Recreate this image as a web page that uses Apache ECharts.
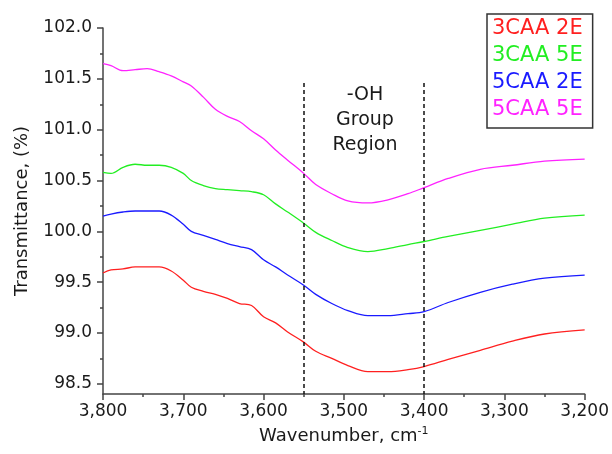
<!DOCTYPE html>
<html>
<head>
<meta charset="utf-8">
<script src="https://cdn.jsdelivr.net/npm/echarts@6/dist/echarts.min.js"></script>
<style>
    html, body { margin: 0; padding: 0; background: #fff; }
    #chart { width: 612px; height: 454px; }
</style>
</head>
<body>
<div id="chart"></div>
<script>
// Data ------------------------------------------------------------
const wavenumbers = [3800, 3790, 3775, 3760, 3745, 3730, 3715, 3700, 3690, 3675, 3660, 3645, 3630, 3615, 3600,
    3585, 3570, 3550, 3535, 3515, 3495, 3470, 3445, 3420, 3400, 3370, 3330, 3290, 3250, 3200];

const caa3_2e = [99.59, 99.62, 99.63, 99.65, 99.65, 99.65, 99.61, 99.52, 99.45, 99.41, 99.38, 99.34, 99.29, 99.27, 99.16,
    99.10, 99.01, 98.91, 98.82, 98.75, 98.68, 98.62, 98.62, 98.64, 98.67, 98.74, 98.83, 98.92, 98.99, 99.03];
const caa3_5e = [100.58, 100.57, 100.63, 100.66, 100.65, 100.65, 100.63, 100.57, 100.50, 100.45, 100.42, 100.41, 100.40, 100.39, 100.36,
    100.27, 100.19, 100.08, 99.99, 99.91, 99.84, 99.80, 99.83, 99.87, 99.90, 99.95, 100.01, 100.07, 100.13, 100.16];
const caa5_2e = [100.15, 100.17, 100.19, 100.20, 100.20, 100.20, 100.16, 100.07, 100.00, 99.96, 99.92, 99.88, 99.85, 99.82, 99.72,
    99.65, 99.57, 99.47, 99.38, 99.29, 99.22, 99.17, 99.17, 99.19, 99.21, 99.30, 99.40, 99.48, 99.54, 99.57];
const caa5_5e = [101.65, 101.63, 101.58, 101.59, 101.60, 101.57, 101.53, 101.47, 101.43, 101.32, 101.20, 101.13, 101.08, 100.99, 100.91,
    100.80, 100.70, 100.57, 100.46, 100.37, 100.30, 100.28, 100.31, 100.37, 100.43, 100.52, 100.61, 100.65, 100.69, 100.71];

const seriesNames = ['3CAA 2E', '3CAA 5E', '5CAA 2E', '5CAA 5E'];
const seriesColors = ['#ff2020', '#22ee22', '#1a1aff', '#ff22ff'];

const yMajorTicks = [98.5, 99.0, 99.5, 100.0, 100.5, 101.0, 101.5, 102.0];
const yMinorTicks = [98.75, 99.25, 99.75, 100.25, 100.75, 101.25, 101.75];
const regionBounds = [3550, 3400];
const regionTop = 101.46;

// Chart -----------------------------------------------------------
const font = 'DejaVu Sans';
const textColor = '#1a1a1a';
const axisColor = '#444';

const pair = (ys) => wavenumbers.map((w, i) => [w, ys[i]]);
const allValues = [caa3_2e, caa3_5e, caa5_2e, caa5_5e];

const chart = echarts.init(document.getElementById('chart'));

const series = allValues.map((ys, i) => ({
    name: seriesNames[i],
    type: 'line',
    data: pair(ys),
    showSymbol: false,
    smooth: 0.35,
    lineStyle: {color: seriesColors[i], width: 1.3},
    itemStyle: {color: seriesColors[i]},
    z: 3
}));

series[0].markLine = {
    silent: true,
    symbol: 'none',
    label: {show: false},
    lineStyle: {color: '#111', type: [4, 3], width: 1.5},
    data: regionBounds.map(w => [{coord: [w, regionTop]}, {coord: [w, 98.4]}])
};

chart.setOption({
    animation: false,
    textStyle: {fontFamily: font},
    grid: {left: 103, right: 25, top: 28, bottom: 60},
    legend: {
        orient: 'vertical',
        left: 487,
        top: 14,
        icon: 'rect',
        itemWidth: 0,
        itemHeight: 0,
        itemGap: 6,
        padding: [4, 10, 8, 0],
        borderColor: '#333',
        borderWidth: 1.5,
        textStyle: {fontFamily: font, fontSize: 21, lineHeight: 20},
        data: seriesNames.map((n, i) => ({name: n, textStyle: {color: seriesColors[i]}}))
    },
    xAxis: {
        type: 'value',
        inverse: true,
        min: 3200,
        max: 3800,
        interval: 100,
        name: 'Wavenumber, cm{sup|-1}',
        nameLocation: 'middle',
        nameGap: 32,
        nameTextStyle: {
            fontFamily: font, fontSize: 18, color: textColor,
            rich: {sup: {fontFamily: font, fontSize: 11, color: textColor, verticalAlign: 'top', padding: [0, 0, 10, 0]}}
        },
        axisLine: {lineStyle: {color: axisColor, width: 1.5}},
        axisTick: {inside: false, length: 6, lineStyle: {color: axisColor, width: 1.5}},
        minorTick: {show: true, splitNumber: 2, length: 3, lineStyle: {color: axisColor, width: 1.5}},
        axisLabel: {
            margin: 9, fontSize: 17, color: textColor,
            formatter: v => v.toLocaleString('en-US')
        },
        splitLine: {show: false}
    },
    yAxis: [
        {
            type: 'value',
            min: 98.4,
            max: 102,
            name: 'Transmittance, (%)',
            nameLocation: 'middle',
            nameGap: 72,
            nameTextStyle: {fontFamily: font, fontSize: 18, color: textColor},
            axisLine: {show: true, lineStyle: {color: axisColor, width: 1.5}},
            axisTick: {show: true, inside: false, length: 6, customValues: yMajorTicks, lineStyle: {color: axisColor, width: 1.5}},
            axisLabel: {
                margin: 11, fontSize: 17, color: textColor,
                customValues: yMajorTicks,
                formatter: v => v.toFixed(1)
            },
            splitLine: {show: false}
        },
        {
            type: 'value',
            position: 'left',
            min: 98.4,
            max: 102,
            axisLine: {show: false},
            axisTick: {show: true, inside: false, length: 3, customValues: yMinorTicks, lineStyle: {color: axisColor, width: 1.5}},
            axisLabel: {show: false},
            splitLine: {show: false}
        }
    ],
    graphic: [{
        type: 'text',
        x: 365,
        y: 83,
        style: {
            text: '-OH\nGroup\nRegion',
            align: 'center',
            verticalAlign: 'top',
            fontFamily: font,
            fontSize: 19,
            lineHeight: 25,
            fill: textColor
        }
    }],
    series: series
});
</script>
</body>
</html>
